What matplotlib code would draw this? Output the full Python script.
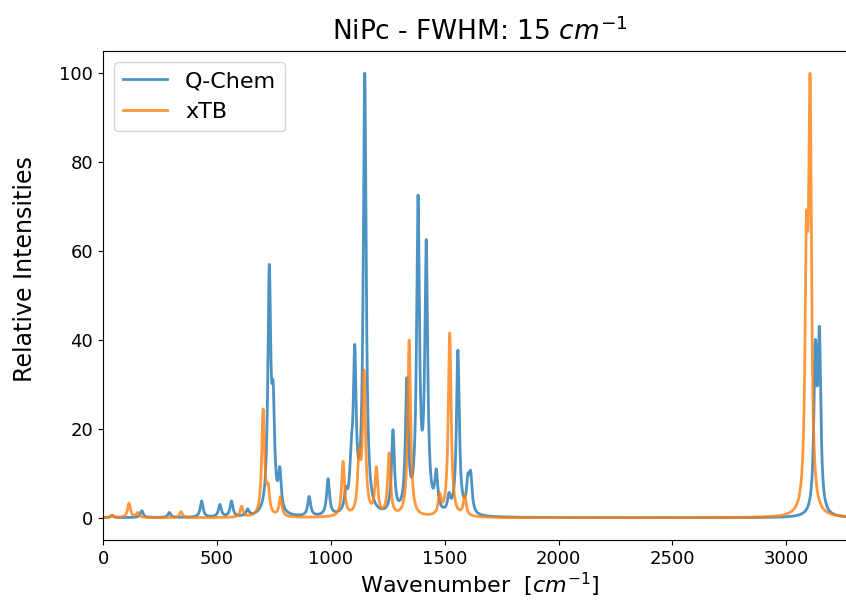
import numpy as np
import matplotlib
matplotlib.use("Agg")
import matplotlib.pyplot as plt

# Peak positions (cm^-1) and apparent peak heights (relative)
qchem_pos = [40, 170, 291, 433, 513, 564, 635, 730, 747, 776, 905, 988, 1066, 1090,
             1105, 1149, 1273, 1334, 1383, 1419, 1463, 1519, 1558, 1602, 1614, 3127, 3145]
qchem_height = [0.5, 1.6, 1.2, 3.8, 3.0, 3.8, 2.0, 57, 30.6, 11.5, 4.8, 8.8, 7.0, 18,
                39, 100, 19.8, 31.5, 72.6, 62.6, 11, 5.7, 37.7, 10, 10.6, 40, 43]

xtb_pos = [40, 114, 152, 342, 608, 703, 725, 779, 1054, 1124, 1146, 1200, 1256, 1344,
           1478, 1522, 1588, 3088, 3104]
xtb_height = [0.6, 3.3, 1.2, 1.4, 2.6, 24.5, 7.8, 4.8, 12.7, 15.7, 33.3, 11.5, 14.6, 40,
              5.6, 41.6, 5.2, 68.5, 100]

labels = ["Q-Chem", "xTB"]
fwhm = 15.0


def lorentz(x, x0):
    g = fwhm / 2.0
    return 1.0 / (1.0 + ((x - x0) / g) ** 2)


def spectrum(pos, height, x):
    pos = np.asarray(pos, float)
    height = np.asarray(height, float)
    # stick intensities that reproduce the apparent heights after broadening
    A = lorentz(pos[:, None], pos[None, :])
    sticks = np.clip(np.linalg.solve(A, height), 0, None)
    y = (sticks[None, :] * lorentz(x[:, None], pos[None, :])).sum(axis=1)
    return y / y.max() * 100.0


x = np.arange(0, 3500, 0.5)
y_q = spectrum(qchem_pos, qchem_height, x)
y_x = spectrum(xtb_pos, xtb_height, x)

plt.rcParams['font.size'] = 13
fig = plt.figure(figsize=(8.46, 6.11), dpi=100)
ax = fig.add_axes([103 / 846, 71 / 611, (857 - 103) / 846, (560 - 71) / 611])
ax.plot(x, y_q, color='tab:blue', alpha=0.8, lw=2.0, label=labels[0])
ax.plot(x, y_x, color='tab:orange', alpha=0.8, lw=2.0, label=labels[1])
ax.set_xlim(0, 3310)
ax.set_ylim(-5, 105)
ax.tick_params(labelsize=13)
ax.set_title("NiPc - FWHM: 15 $cm^{-1}$", fontsize=19, pad=8)
ax.set_xlabel("Wavenumber  [$cm^{-1}$]", fontsize=16, labelpad=2)
ax.set_ylabel("Relative Intensities", fontsize=17)
ax.yaxis.set_label_coords(-0.088, 0.555)
ax.legend(loc='upper left', fontsize=16)
fig.savefig("out.png", dpi=100)
